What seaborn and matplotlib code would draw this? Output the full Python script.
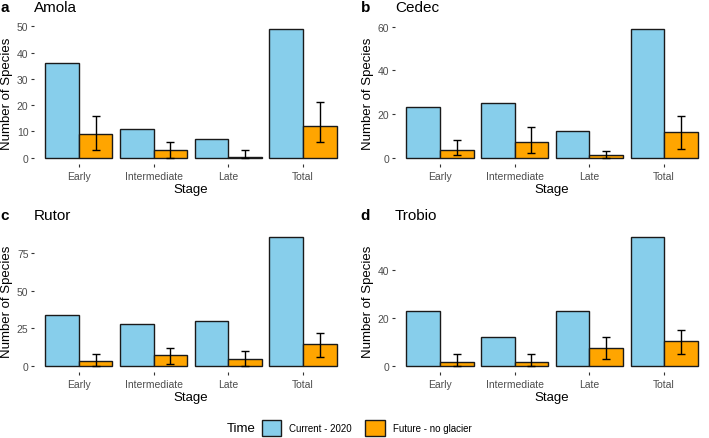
import matplotlib
matplotlib.use("Agg")
import matplotlib.pyplot as plt
import numpy as np
import pandas as pd
import seaborn as sns
from matplotlib.patches import Patch

COLOR_CURRENT = "#87CEEB"
COLOR_FUTURE = "#FFA500"
TICK_COLOR = "#4D4D4D"

stages = ["Early", "Intermediate", "Late", "Total"]
times = ["Current - 2020", "Future - no glacier"]
sites = ["Amola", "Cedec", "Rutor", "Trobio"]
tags = ["a", "b", "c", "d"]

current_2020 = {
    "Amola": [36, 11, 7, 49],
    "Cedec": [23, 25, 12, 59],
    "Rutor": [34, 28, 30, 86],
    "Trobio": [23, 12, 23, 54],
}
future_mean = {
    "Amola": [9, 2.8, 0.4, 12.2],
    "Cedec": [3.7, 7, 1.1, 11.6],
    "Rutor": [3.3, 7.1, 4.5, 14.7],
    "Trobio": [1.5, 1.5, 7.4, 10.5],
}
future_low = {
    "Amola": [3, 0, 0, 6],
    "Cedec": [1.1, 2, 0, 4],
    "Rutor": [0, 1, 0, 5.8],
    "Trobio": [0, 0, 2.9, 4.9],
}
future_high = {
    "Amola": [16, 6, 3, 21],
    "Cedec": [8.1, 14.2, 3, 19.1],
    "Rutor": [8, 12, 9.8, 21.8],
    "Trobio": [4.9, 4.9, 12.2, 15],
}
y_ticks = {
    "Amola": [0, 10, 20, 30, 40, 50],
    "Cedec": [0, 20, 40, 60],
    "Rutor": [0, 25, 50, 75],
    "Trobio": [0, 20, 40],
}

plt.rcParams["font.family"] = ["Liberation Sans", "DejaVu Sans"]

W, H = 709, 439
fig = plt.figure(figsize=(W / 100, H / 100), dpi=100)

ax_w = 314 / W
ax_h = 141.7 / H
lefts = [34 / W, 395 / W, 34 / W, 395 / W]
bottoms = [(H - 165.1) / H, (H - 165.1) / H, (H - 373.1) / H, (H - 373.1) / H]

for site, tag, left, bottom in zip(sites, tags, lefts, bottoms):
    ax = fig.add_axes([left, bottom, ax_w, ax_h])
    df = pd.DataFrame(
        {
            "Stage": stages * 2,
            "Species": current_2020[site] + future_mean[site],
            "Time": [times[0]] * 4 + [times[1]] * 4,
        }
    )
    sns.barplot(
        data=df,
        x="Stage",
        y="Species",
        hue="Time",
        order=stages,
        hue_order=times,
        palette=[COLOR_CURRENT, COLOR_FUTURE],
        edgecolor="#1a1a1a",
        linewidth=1.0,
        width=0.9,
        gap=0,
        saturation=1,
        errorbar=None,
        legend=False,
        ax=ax,
    )
    # asymmetric error bars on the future bars
    fut_bars = ax.containers[1]
    xs = [b.get_x() + b.get_width() / 2 for b in fut_bars]
    mean = np.array(future_mean[site])
    err = [mean - np.array(future_low[site]), np.array(future_high[site]) - mean]
    ax.errorbar(xs, mean, yerr=err, fmt="none", ecolor="black",
                elinewidth=1.0, capsize=2.8, capthick=1.0, zorder=5)

    top = max(max(current_2020[site]), max(future_high[site]))
    ax.set_xlim(-0.6, 3.6)
    ax.set_ylim(-0.05 * top, 1.05 * top)
    ax.set_yticks(y_ticks[site])
    for s in ax.spines.values():
        s.set_visible(False)
    ax.tick_params(axis="both", length=2.5, width=0.8, color="#333333",
                   labelsize=7.5, labelcolor=TICK_COLOR)
    ax.tick_params(axis="x", pad=2.5)
    ax.tick_params(axis="y", pad=1.5)

    ax.set_xlabel("Stage", fontsize=9.5)
    ax.set_ylabel("Number of Species", fontsize=9.5)
    ax.xaxis.set_label_coords(0.5, -0.135)
    ax.yaxis.set_label_coords(-0.067, 0.5)

    ax.text(0.0, 1.109, site, transform=ax.transAxes, fontsize=11,
            ha="left", va="center")
    ax.text(-0.094, 1.109, tag, transform=ax.transAxes, fontsize=11,
            fontweight="bold", ha="center", va="center")

handles = [Patch(facecolor=COLOR_CURRENT, edgecolor="#1a1a1a", linewidth=1.0),
           Patch(facecolor=COLOR_FUTURE, edgecolor="#1a1a1a", linewidth=1.0)]
fig.legend(handles, times, ncol=2, loc="center left",
           bbox_to_anchor=(262 / W, 1 - 429 / H), frameon=False,
           fontsize=7, handlelength=2.0, handleheight=2.0,
           handletextpad=0.8, columnspacing=1.4, borderpad=0, borderaxespad=0)
fig.text(256 / W, 1 - 429 / H, "Time", fontsize=9.5, ha="right", va="center")

fig.savefig("out.png", dpi=100)
